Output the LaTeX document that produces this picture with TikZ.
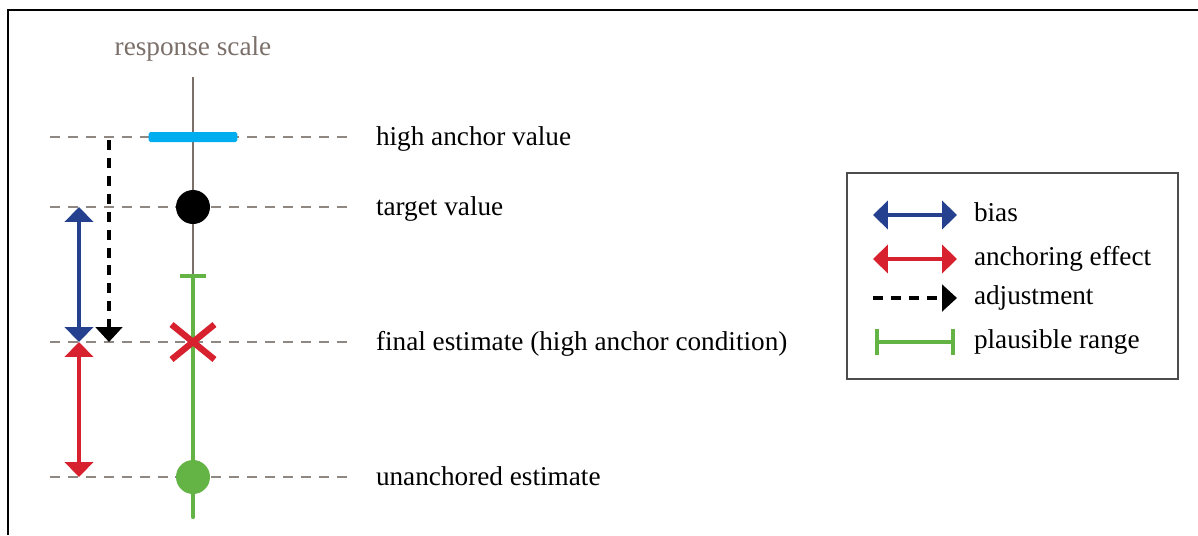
\documentclass[tikz,border=0pt]{standalone}
\usepackage{fontspec}
\setmainfont{Liberation Serif}
\usetikzlibrary{arrows.meta,positioning,shapes.misc}
\definecolor{biasblue}{HTML}{24408E}
\definecolor{anchred}{HTML}{D7212F}
\definecolor{rangegreen}{HTML}{64B445}
\definecolor{anchcyan}{HTML}{00AEEF}
\definecolor{scalegray}{HTML}{7B6F69}
\definecolor{guidegray}{HTML}{8F8782}

\begin{document}
\begin{tikzpicture}[x=0.02cm,y=-0.02cm,
        every node/.style={outer sep=0pt,font=\fontsize{15.5}{18}\selectfont},
        level/.style={guidegray,line width=0.85pt,dash pattern=on 5.7pt off 4.5pt},
        lbl/.style={anchor=mid west,inner sep=0pt},
        dot/.style={circle,minimum size=0.68cm,inner sep=0pt},
        bias/.style={biasblue,line width=2.8pt,{Triangle[width=16pt,length=8.5pt]}-{Triangle[width=16pt,length=8.5pt]}},
        anchoring/.style={anchred,line width=2.8pt,{Triangle[width=16pt,length=8.5pt]}-{Triangle[width=16pt,length=8.5pt]}},
        adjust/.style={black,line width=2.8pt,dash pattern=on 5.7pt off 4.5pt,-{Triangle[width=15pt,length=8.5pt]}},
        plausible/.style={rangegreen,line width=2.4pt,line cap=round}]

        \useasboundingbox (0,0) rectangle (1198,535);
        % Frame
        \draw[line width=1.4pt] (1198,10) -- (8,10) -- (8,535);

        % Labels
        \node[scalegray] (title) at (193,49) {response scale};
        \node[lbl] (lhigh) at (376,141) {high anchor value};
        \node[lbl] (ltarget) at (376,211) {target value};
        \node[lbl] (lfinal) at (376,346) {final estimate (high anchor condition)};
        \node[lbl] (lunanch) at (376,481) {unanchored estimate};

        % Guide lines
        \draw[level] (50,137) coordinate (g1) -- ([xshift=-0.48cm]lhigh.west |- g1);
        \draw[level] (50,207) coordinate (g2) -- ([xshift=-0.48cm]ltarget.west |- g2);
        \draw[level] (50,342) coordinate (g3) -- ([xshift=-0.48cm]lfinal.west |- g3);
        \draw[level] (50,477) coordinate (g4) -- ([xshift=-0.48cm]lunanch.west |- g4);

        % Response scale
        \coordinate (stop) at (193,77);
        \coordinate (rtop) at (193,274);
        \coordinate (rbot) at (193,517);
        \draw[scalegray,line width=1.1pt] (stop) -- (rtop);
        \draw[plausible,{Bar[width=14.8pt]}-] (rtop) -- (rbot);

        \node[fill=anchcyan,rounded corners=1pt,minimum width=1.78cm,minimum height=0.2cm,inner sep=0pt] (anch) at (193,137) {};
        \node[dot,fill=black] (target) at (193,207) {};
        \node[cross out,draw=anchred,line width=3.6pt,minimum width=0.86cm,minimum height=0.7cm,inner sep=0pt] (final) at (193,342) {};
        \node[dot,fill=rangegreen] (unanch) at (193,477) {};

        % Effects
        \coordinate (bt) at (79,207);
        \coordinate (bb) at (79,342);
        \coordinate (rb) at (79,477);
        \draw[bias] (bt) -- (bb);
        \draw[anchoring] (bb) -- (rb);
        \coordinate (at) at (109,140);
        \coordinate (ab) at (109,342);
        \draw[adjust] (at) -- (ab);

        % Legend
        \node[draw=black!70,line width=0.9pt,minimum width=6.62cm,minimum height=4.12cm] (legend) at (1012.5,276) {};
        \node[lbl] (tbias) at (974,217) {bias};
        \node[lbl] (tanch) at (974,261) {anchoring effect};
        \node[lbl] (tadj) at (974,300) {adjustment};
        \node[lbl] (trange) at (974,344) {plausible range};
        \draw[bias] (873,215) coordinate (k1) -- ([xshift=-0.34cm]tbias.west |- k1);
        \draw[anchoring] (873,259) coordinate (k2) -- ([xshift=-0.34cm]tanch.west |- k2);
        \draw[adjust] (873,298) coordinate (k3) -- ([xshift=-0.34cm]tadj.west |- k3);
        \draw[plausible,{Bar[width=14.8pt]}-{Bar[width=14.8pt]}] (875,342) coordinate (k4) -- ([xshift=-0.38cm]trange.west |- k4);

\end{tikzpicture}
\end{document}
